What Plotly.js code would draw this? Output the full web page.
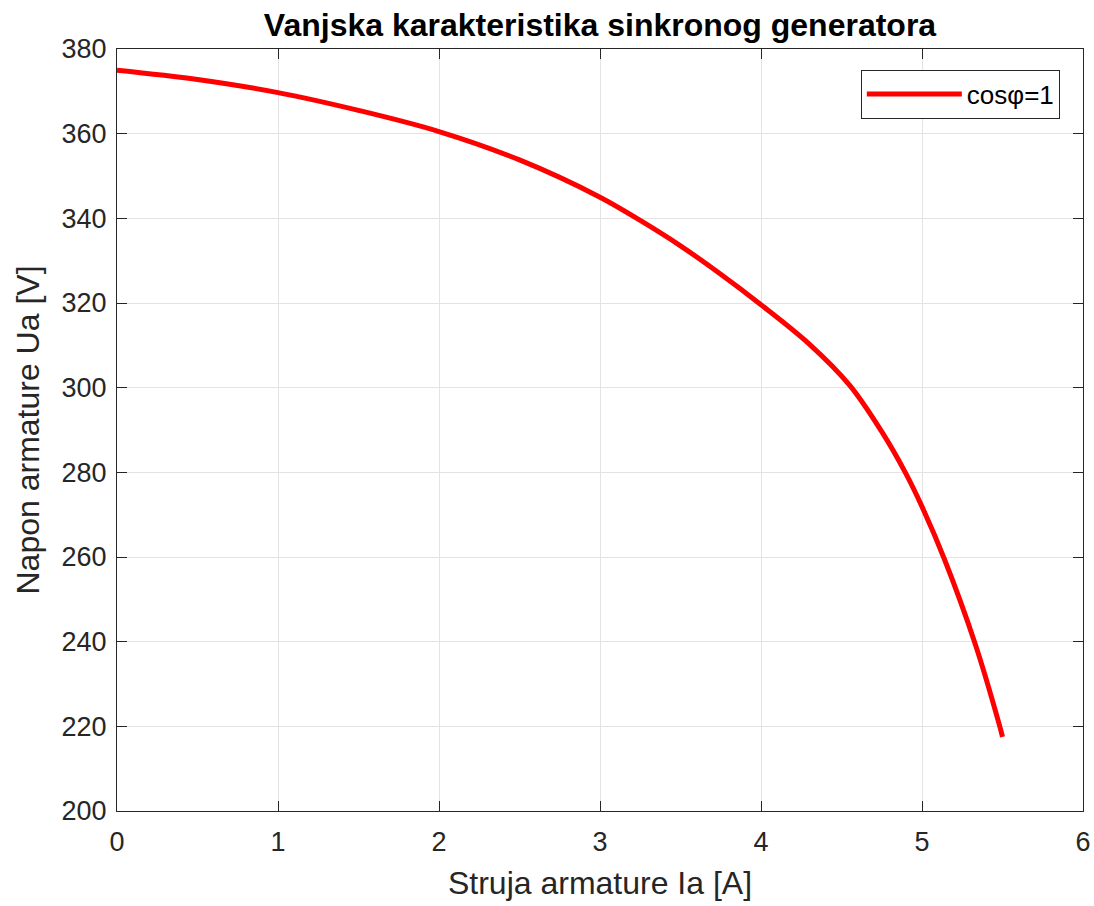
<!DOCTYPE html>
<html>
<head>
<meta charset="utf-8">
<script src="https://cdn.plot.ly/plotly-3.0.1.min.js"></script>
<style>html,body{margin:0;padding:0;background:#fff;}#chart{width:1094px;height:906px;}</style>
</head>
<body>
<div id="chart"></div>
<script>
// Armature current Ia [A]
const currentIa = [0, 0.5, 1, 1.5, 2, 2.5, 3, 3.25, 3.5, 3.75, 4, 4.3, 4.55, 4.75, 4.9, 5, 5.14, 5.33, 5.48, 5.5];
// Armature voltage Ua [V]
const voltageUa = [375, 372.8, 369.7, 365.5, 360.5, 353.8, 345, 339.5, 333.5, 326.8, 319.6, 310.3, 300.6, 289.6, 279.7, 271.9, 259.4, 239.5, 220.4, 217.5];
const seriesName = 'cosφ=1';
const xTicks = [0, 1, 2, 3, 4, 5, 6];
const yTicks = [200, 220, 240, 260, 280, 300, 320, 340, 360, 380];

const axisColor = '#262626';
const fontFamily = 'Liberation Sans, Arial, Helvetica, sans-serif';

const trace = {
  x: currentIa,
  y: voltageUa,
  type: 'scatter',
  mode: 'lines',
  name: seriesName,
  line: {color: '#ff0000', width: 5, shape: 'spline', smoothing: 1}
};

const layout = {
  width: 1094,
  height: 906,
  margin: {l: 117, r: 11, t: 49, b: 95},
  paper_bgcolor: '#ffffff',
  plot_bgcolor: '#ffffff',
  font: {family: fontFamily, color: axisColor, size: 27},
  title: {
    text: '<b>Vanjska karakteristika sinkronog generatora</b>',
    font: {family: fontFamily, size: 32, color: '#000000'},
    x: 0.5, xref: 'paper', xanchor: 'center',
    y: 28, yref: 'container', yanchor: 'middle'
  },
  xaxis: {
    range: [0, 6],
    tickvals: xTicks,
    ticktext: xTicks.map(String),
    showgrid: true, gridcolor: '#e3e3e3', gridwidth: 1,
    zeroline: false,
    showline: true, linecolor: axisColor, linewidth: 1, mirror: 'ticks',
    ticks: 'inside', ticklen: 10, tickcolor: axisColor, tickwidth: 1,
    ticklabelstandoff: 7,
    tickfont: {family: fontFamily, size: 27, color: axisColor},
    title: {text: 'Struja armature Ia [A]', font: {family: fontFamily, size: 32, color: axisColor}, standoff: 15}
  },
  yaxis: {
    range: [200, 380],
    tickvals: yTicks,
    ticktext: yTicks.map(String),
    showgrid: true, gridcolor: '#e3e3e3', gridwidth: 1,
    zeroline: false,
    showline: true, linecolor: axisColor, linewidth: 1, mirror: 'ticks',
    ticks: 'inside', ticklen: 10, tickcolor: axisColor, tickwidth: 1,
    ticklabelstandoff: 4,
    tickfont: {family: fontFamily, size: 27, color: axisColor},
    title: {text: 'Napon armature Ua [V]', font: {family: fontFamily, size: 32, color: axisColor}, standoff: 12}
  },
  showlegend: true,
  legend: {
    x: 0.976, xanchor: 'right', xref: 'paper',
    y: 0.973, yanchor: 'top', yref: 'paper',
    bgcolor: '#ffffff', bordercolor: '#262626', borderwidth: 1,
    font: {family: fontFamily, size: 26, color: '#000000'},
    itemwidth: 95
  }
};

Plotly.newPlot('chart', [trace], layout, {displayModeBar: false, staticPlot: true});
</script>
</body>
</html>
